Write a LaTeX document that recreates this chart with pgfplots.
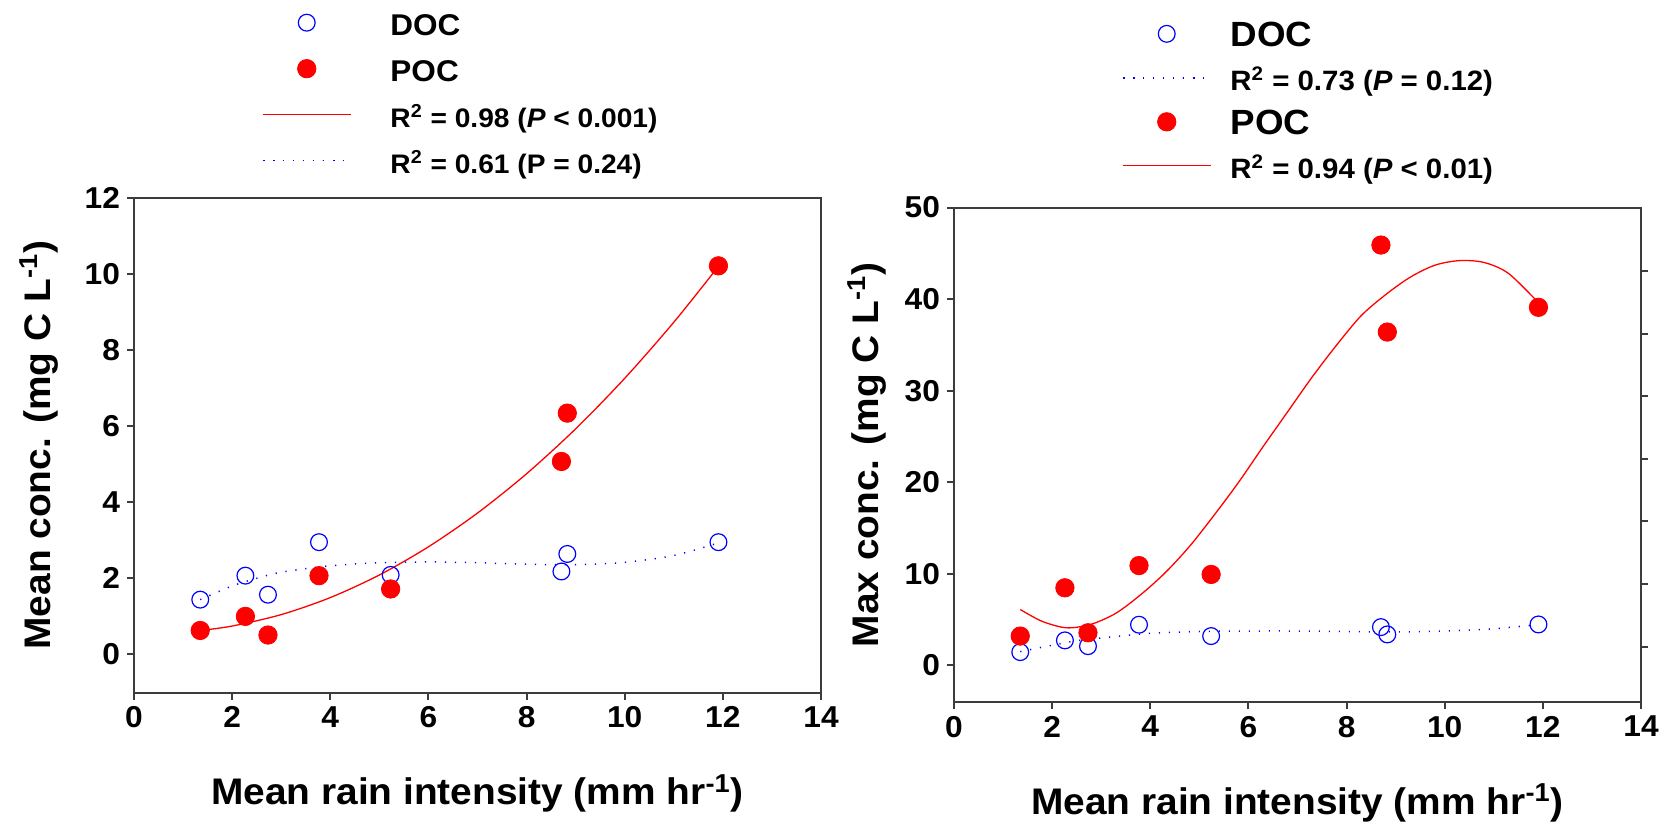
\documentclass[border=0pt]{standalone}
\usepackage{fontspec}
\setmainfont{Liberation Sans}[FakeStretch=1.05]
\usepackage{pgfplots}
\pgfplotsset{compat=1.18}

\pgfplotstableread{
x y
1.35 1.44
2.27 2.07
2.73 1.57
3.77 2.95
5.23 2.09
8.71 2.18
8.83 2.64
11.91 2.95
}\meanDOC
\pgfplotstableread{
x y
1.35 0.63
2.27 1.00
2.73 0.51
3.77 2.07
5.23 1.72
8.71 5.07
8.83 6.34
11.91 10.21
}\meanPOC
\pgfplotstableread{
x y
1.35 3.2
2.26 8.47
2.73 3.56
3.77 10.9
5.24 9.93
8.70 45.9
8.83 36.4
11.91 39.1
}\maxPOC
\pgfplotstableread{
x y
1.35 1.45
2.26 2.73
2.73 2.10
3.77 4.44
5.24 3.20
8.70 4.18
8.83 3.38
11.91 4.47
}\maxDOC

\definecolor{axgray}{RGB}{60,60,60}
\newcommand\legbig{\fontsize{15}{17}\selectfont}
\newcommand\legbigR{\fontsize{17.5}{19}\selectfont}
\newcommand\legsmR{\fontsize{14}{15}\selectfont}
\newcommand\lgap{\hspace*{10pt}}

\pgfplotsset{
  panel/.style={
    scale only axis, width=343.5pt, height=247.4pt,
    xmin=0, xmax=14, xtick={0,2,...,14},
    axis line style={axgray, line width=1pt},
    every tick/.style={axgray, line width=1pt},
    tick align=outside, major tick length=3.5pt,
    xtick pos=bottom, ytick pos=left,
    /pgf/number format/assume math mode=true,
    ticklabel style={font=\bfseries\fontsize{15.1}{16}\selectfont},
    label style={font=\bfseries\fontsize{18.5}{20}\selectfont},
    xlabel={Mean rain intensity (mm hr\textsuperscript{-1})},
    xlabel style={at={(axis description cs:0.5,-0.204)}, anchor=center},
    legend image code/.code={%
      \path[draw=none,fill=none] (0pt,0pt) -- (44pt,0pt);
      \draw[##1] plot coordinates {(0pt,0pt) (44pt,0pt)};},
    legend style={draw=none, fill=none, inner sep=0pt, outer sep=0pt,
      font=\bfseries\fontsize{13.4}{15}\selectfont,
      cells={anchor=west},
      nodes={inner sep=0pt, text height=13pt, text depth=0pt}},
  },
  markimage/.style={legend image code/.code={%
      \path[draw=none,fill=none] (0pt,0pt) -- (44pt,0pt);
      \draw[##1] plot coordinates {(22pt,0pt)};}},
  docpts/.style={only marks, mark=o, blue, mark size=4.2pt, line width=0.6pt, markimage},
  pocpts/.style={only marks, mark=*, red, mark size=4.6pt, mark options={fill=red}, markimage},
  pocfit/.style={red, line width=0.65pt, smooth, no marks},
  docfit/.style={blue, line width=0.75pt, dash pattern=on 0.6pt off 4.4pt, smooth, no marks},
}

\begin{document}
\begin{tikzpicture}
\useasboundingbox (0pt,0pt) rectangle (834.5pt,-412pt);

% left panel
\begin{axis}[panel, at={(67pt,-98.85pt)}, anchor=north west,
  ymin=-1, ymax=12, ytick={0,2,...,12},
  ylabel={Mean conc. (mg C L\textsuperscript{-1})},
  ylabel style={at={(axis description cs:-0.138,0.5)}, anchor=center},
  legend style={at={(axis description cs:0.1863,1.380)}, anchor=north west,
    row sep=10pt, column sep=9.5pt}]
\addplot[docpts] table {\meanDOC};
\addlegendentry{\lgap\legbig DOC}
\addplot[pocpts] table {\meanPOC};
\addlegendentry{\lgap\legbig POC}
\addplot[pocfit] coordinates {(1.35,0.630) (2,0.746) (3,1.047) (4,1.494) (5,2.088) (6,2.828) (7,3.715) (8,4.748) (9,5.928) (10,7.255) (11,8.728) (11.91,10.196)};
\addlegendentry{\lgap R\textsuperscript{2} = 0.98 (\textit{P} < 0.001)}
\addplot[docfit] coordinates {(1.35,1.44) (2,1.80) (2.5,2.00) (3,2.16) (4,2.33) (5,2.41) (6,2.43) (7,2.41) (8,2.37) (9,2.36) (10,2.42) (11,2.60) (11.91,2.93)};
\addlegendentry{\lgap R\textsuperscript{2} = 0.61 (P = 0.24)}
\end{axis}

% right panel
\begin{axis}[panel, at={(477pt,-103.75pt)}, anchor=north west, height=247.25pt,
  ymin=-4, ymax=50, ytick={0,10,...,50},
  ylabel={Max conc. (mg C L\textsuperscript{-1})},
  ylabel style={at={(axis description cs:-0.127,0.5)}, anchor=center},
  legend style={at={(axis description cs:0.2445,1.3775)}, anchor=north west,
    row sep=9pt, column sep=9.5pt}]
\addplot[docpts] table {\maxDOC};
\addlegendentry{\legbigR DOC}
\addplot[docfit] coordinates {(1.35,1.5) (2,2.2) (2.5,2.7) (3,3.0) (4,3.5) (5,3.7) (6,3.75) (7,3.75) (8,3.7) (9,3.65) (10,3.75) (11,4.0) (11.91,4.45)};
\addlegendentry{\legsmR R\textsuperscript{2} = 0.73 (\textit{P} = 0.12)}
\addplot[pocpts] table {\maxPOC};
\addlegendentry{\legbigR POC}
\addplot[pocfit] coordinates {(1.35,6.1) (1.8,4.8) (2.3,4.1) (2.8,4.5) (3.3,5.7) (3.8,7.7) (4.3,10.1) (4.8,13.0) (5.3,16.4) (5.8,20.0) (6.3,23.9) (6.8,27.7) (7.3,31.5) (7.8,35.0) (8.3,38.2) (8.8,40.5) (9.3,42.4) (9.8,43.7) (10.3,44.2) (10.8,44.0) (11.3,42.8) (11.91,39.6)};
\addlegendentry{\legsmR R\textsuperscript{2} = 0.94 (\textit{P} < 0.01)}
\end{axis}

% right-hand ticks of the right panel
\begin{axis}[at={(477pt,-103.75pt)}, anchor=north west,
  scale only axis, width=343.5pt, height=247.25pt,
  xmin=0, xmax=14, ymin=-4, ymax=50,
  axis x line=none, axis y line*=right,
  axis line style={axgray, line width=1pt},
  every tick/.style={axgray, line width=1pt},
  tick align=outside, major tick length=3.5pt,
  ytick={2.04,8.88,15.72,22.56,29.40,36.24,43.08}, yticklabels={}]
\addplot[draw=none, forget plot] coordinates {(1,1)};
\end{axis}
\end{tikzpicture}
\end{document}
